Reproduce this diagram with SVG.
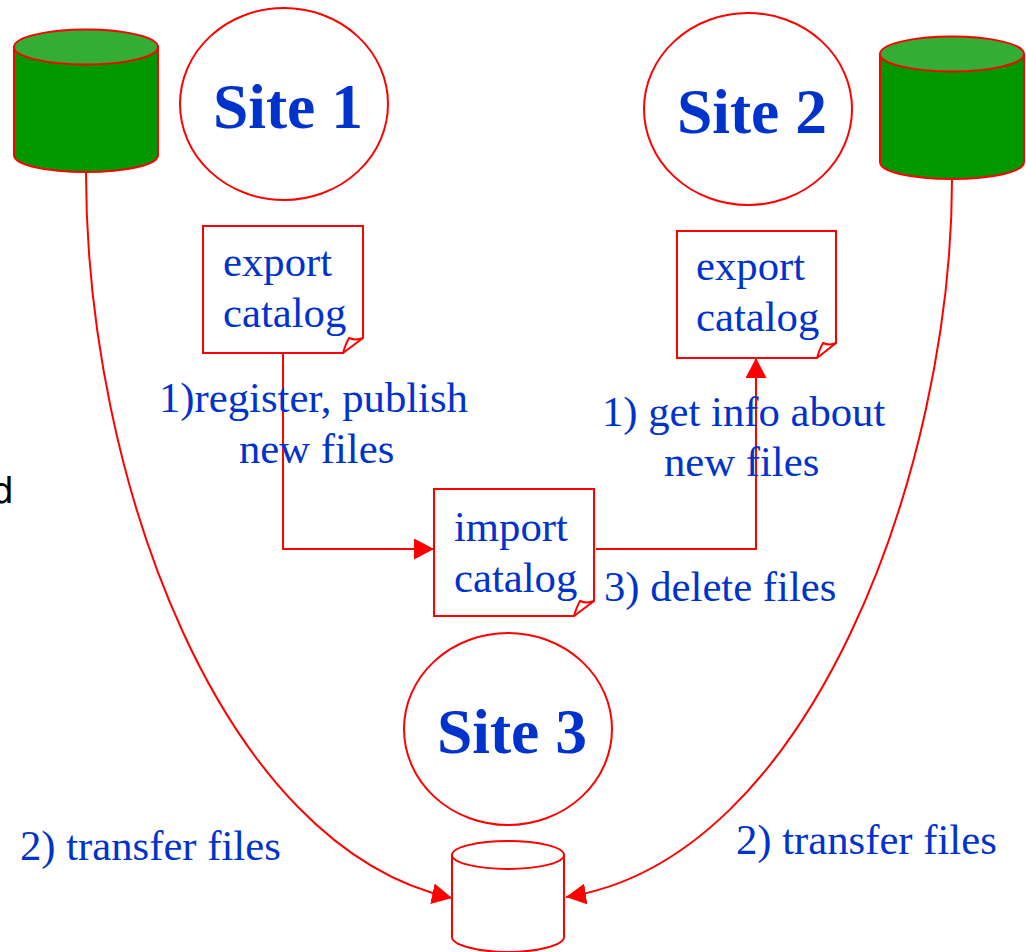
<svg xmlns="http://www.w3.org/2000/svg" width="1026" height="952" viewBox="0 0 1026 952">
<style>
.s{fill:none;stroke:#f00;stroke-width:2}
.w{fill:#fff;stroke:#f00;stroke-width:2}
.g{fill:#009700;stroke:#f00;stroke-width:2}
.t{fill:#33ad33;stroke:#f00;stroke-width:2}
text{font-family:"Liberation Serif","Times New Roman",serif;fill:#0033cc}
.h{font-size:63.500px;font-weight:bold}
.l{font-size:42.700px}
</style>
<defs>
<marker id="a" markerUnits="userSpaceOnUse" markerWidth="21" markerHeight="21" refX="20" refY="10.5" orient="auto"><path d="M0 0L20 10.5L0 21Z" fill="#f00"/></marker>
</defs>
<rect width="1026" height="952" fill="#fff"/>
<g id="connectors">
<path class="s" d="M86 172C86 480 222 848 452 898" marker-end="url(#a)"/>
<path class="s" d="M952 179C952 470 810 860 566 897" marker-end="url(#a)"/>
<path class="s" d="M283 353V549H434" marker-end="url(#a)"/>
<path class="s" d="M596 549H756V358" marker-end="url(#a)"/>
</g>
<g id="db1">
<path class="g" d="M14 47V155C14 165 46 172 86 172S158 165 158 155V47Z"/>
<ellipse class="t" cx="86" cy="47" rx="72" ry="17.500"/>
</g>
<g id="site1"><ellipse class="w" cx="284" cy="104" rx="104" ry="96"/><text class="h" x="213" y="128">Site 1</text></g>
<g id="site2"><ellipse class="w" cx="748" cy="109" rx="104" ry="96"/><text class="h" x="677" y="133">Site 2</text></g>
<g id="db2">
<path class="g" d="M880 54V162C880 172 912 179 952 179S1024 172 1024 162V54Z"/>
<ellipse class="t" cx="952" cy="54" rx="72" ry="17.500"/>
</g>
<g id="export1">
<path class="w" d="M203 226H363V338L343 353H203Z"/>
<path class="s" d="M343 353Q346 343 349 338Q356 341 363 338"/>
<text class="l"><tspan x="223" y="276">export</tspan><tspan x="223" y="327">catalog</tspan></text>
</g>
<g id="export2">
<path class="w" d="M677 231H836V343L817 358H677Z"/>
<path class="s" d="M817 358Q820 348 823 343Q830 346 836 343"/>
<text class="l"><tspan x="696" y="280">export</tspan><tspan x="696" y="331">catalog</tspan></text>
</g>
<g id="import">
<path class="w" d="M434 489H594V601L574 616H434Z"/>
<path class="s" d="M574 616Q577 606 580 601Q587 604 594 601"/>
<text class="l"><tspan x="454" y="541">import</tspan><tspan x="454" y="592">catalog</tspan></text>
</g>
<g id="site3"><ellipse class="w" cx="508" cy="729" rx="104" ry="96"/><text class="h" x="437" y="753">Site 3</text></g>
<g id="db3">
<path class="w" d="M452 855V937C452 945 478 952 508 952S564 945 564 937V855Z"/>
<ellipse class="w" cx="508" cy="855" rx="56" ry="14"/>
</g>
<g id="labels">
<text class="l"><tspan x="159" y="412">1)register, publish</tspan><tspan x="239" y="463">new files</tspan></text>
<text class="l"><tspan x="602" y="426">1) get info about</tspan><tspan x="664" y="476">new files</tspan></text>
<text class="l" x="604" y="601">3) delete files</text>
<text class="l" x="20" y="860">2) transfer files</text>
<text class="l" x="736" y="854">2) transfer files</text>
<text x="-9" y="503" style="font-family:'DejaVu Sans',sans-serif;font-size:36px;fill:#000">d</text>
</g>
</svg>
